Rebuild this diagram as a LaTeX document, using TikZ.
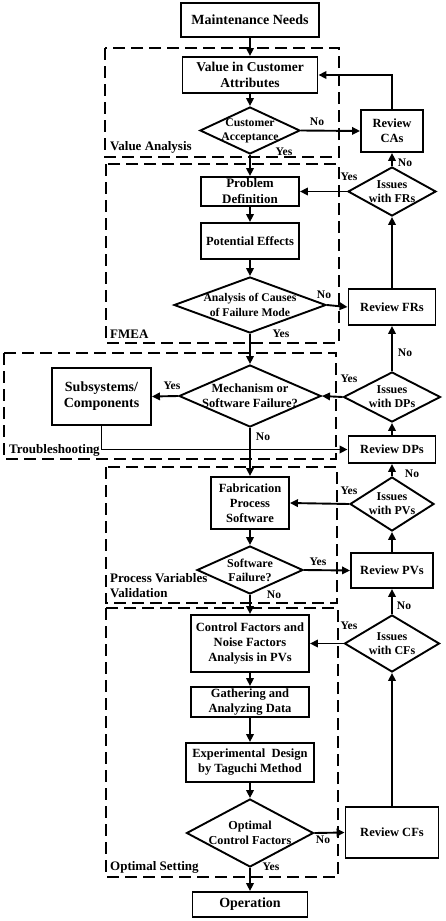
\documentclass[tikz,border=0pt]{standalone}
\usepackage{fontspec}
\setmainfont{Liberation Serif}
\usetikzlibrary{shapes.geometric,arrows.meta}
\newcommand\fsz[2][15]{\fontsize{#2}{#1}\selectfont\bfseries}
\begin{document}
\begin{tikzpicture}[x=1pt,y=-1pt,
  box/.style={draw,line width=1.9pt,rectangle,inner sep=0pt,align=center,font={\fsz{12.5}}},
  dia/.style={draw,line width=1.9pt,diamond,inner sep=0pt},
  dtext/.style={inner sep=0pt,align=center,font={\fsz[14]{12}}},
  lab/.style={inner sep=0pt,font={\fsz{11.6}}},
  sec/.style={inner sep=0pt,anchor=west,align=left,font={\fsz{13}}},
  dbox/.style={line width=1.9pt,dash pattern=on 12pt off 6pt},
  arr/.style={line width=1.9pt,-{Triangle[length=8pt,width=7.5pt]}},
  ln/.style={line width=1.9pt}]
\useasboundingbox (0,0) rectangle (445,921);

% dashed groups
\draw[dbox] (105,48) rectangle (339,157);
\draw[dbox] (106,164) rectangle (339,343);
\draw[dbox] (4,353) rectangle (336,459);
\draw[dbox] (106,467) rectangle (337,603);
\draw[dbox] (106,608) rectangle (338,877);

\node[sec] (sva) at (110,147) {Value Analysis};
\node[sec] (sfm) at (110,334) {FMEA};
\node[sec] (str) at (9,450) {Troubleshooting};
\node[sec] (spv) at (110,585.5) {Process Variables\\Validation};
\node[sec] (sos) at (110,867) {Optimal Setting};

% main column
\node[box,minimum width=138,minimum height=34,font={\fsz{14}}] (mn) at (250,20) {Maintenance Needs};
\node[box,minimum width=135,minimum height=36,font={\fsz[15.5]{13.5}}] (vca) at (250,75) {Value in Customer\\Attributes};
\node[dia,minimum width=100,minimum height=47] (ca) at (250,130.5) {};
\node[dtext,font={\fsz[14]{11.7}}] (caT) at (ca.center) {Customer\\Acceptance};
\node[box,minimum width=98,minimum height=29,font={\fsz[16]{13}}] (pd) at (250,191.5) {Problem\\Definition};
\node[box,minimum width=98,minimum height=36] (pe) at (250,241) {Potential Effects};
\node[dia,minimum width=152,minimum height=56] (an) at (250,305) {};
\node[dtext,font={\fsz{11.7}}] (anT) at (an.center) {Analysis of Causes\\of Failure Mode};
\node[dia,minimum width=142,minimum height=62] (me) at (250,396) {};
\node[dtext,font={\fsz[15]{12.5}}] (meT) at (me.center) {Mechanism or\\Software Failure?};
\node[box,minimum width=99,minimum height=57,font={\fsz[16]{14}}] (sub) at (101.5,396.5) {Subsystems/\\Components};
\node[box,minimum width=78,minimum height=52] (fab) at (250,503) {Fabrication\\Process\\Software};
\node[dia,minimum width=106,minimum height=48] (sw) at (250,570) {};
\node[dtext] (swT) at (sw.center) {Software\\Failure?};
\node[box,minimum width=118,minimum height=57] (cf) at (250,643.5) {Control Factors and\\Noise Factors\\Analysis in PVs};
\node[box,minimum width=118,minimum height=30] (ga) at (250,702) {Gathering and\\Analyzing Data};
\node[box,minimum width=128,minimum height=39] (ex) at (250,762.5) {Experimental\ \ Design\\by Taguchi Method};
\node[dia,minimum width=127,minimum height=68] (oc) at (250,833) {};
\node[dtext,font={\fsz{12.2}}] (ocT) at (oc.center) {Optimal\\Control Factors};
\node[box,minimum width=115,minimum height=25,font={\fsz{14}}] (op) at (250,904.5) {Operation};

% right column
\node[box,minimum width=62,minimum height=42] (rca) at (392,131) {Review\\CAs};
\node[dia,minimum width=88,minimum height=49] (ifr) at (392,191.5) {};
\node[dtext] (ifrT) at (ifr.center) {Issues\\with FRs};
\node[box,minimum width=87,minimum height=36] (rfr) at (392,307) {Review FRs};
\node[dia,minimum width=97,minimum height=50] (idp) at (392,397) {};
\node[dtext] (idpT) at (idp.center) {Issues\\with DPs};
\node[box,minimum width=87,minimum height=27] (rdp) at (392,449.5) {Review DPs};
\node[dia,minimum width=84,minimum height=54] (ipv) at (392,504) {};
\node[dtext] (ipvT) at (ipv.center) {Issues\\with PVs};
\node[box,minimum width=82,minimum height=35] (rpv) at (392,570.5) {Review PVs};
\node[dia,minimum width=95,minimum height=57] (icf) at (392,643.5) {};
\node[dtext] (icfT) at (icf.center) {Issues\\with CFs};
\node[box,minimum width=93,minimum height=51] (rcf) at (392,832.5) {Review CFs};

% connectors main column
\draw[arr] (mn) -- (vca);
\draw[arr] (vca) -- (ca.north);
\draw[arr] (ca.south) -- (pd);
\draw[arr] (pd) -- (pe);
\draw[arr] (pe) -- (an.north);
\draw[arr] (an.south) -- (me.north);
\draw[arr] (me.south) -- (fab);
\draw[arr] (fab) -- (sw.north);
\draw[arr] (sw.south) -- (cf);
\draw[arr] (cf) -- (ga);
\draw[arr] (ga) -- (ex);
\draw[arr] (ex) -- (oc.north);
\draw[arr] (oc.south) -- (op);

% horizontal to right column
\draw[arr] (ca.east) -- (rca.west);
\draw[arr] (an.east) -- (rfr.west);
\draw[arr] (me.west) -- (sub.east);
\draw[arr] (sub.south) |- (rdp.west);
\draw[arr] (sw.east) -- (rpv.west);
\draw[arr] (oc.east) -- (rcf.west);

% right column vertical
\draw[arr] (rca.north) |- (vca.east);
\draw[arr] (rfr.north) -- (ifr.south);
\draw[arr] (ifr.north) -- (rca.south);
\draw[arr] (ifr.west) -- (pd.east);
\draw[arr] (rdp.north) -- (idp.south);
\draw[arr] (idp.north) -- (rfr.south);
\draw[arr] (idp.west) -- (me.east);
\draw[arr] (rpv.north) -- (ipv.south);
\draw[arr] (ipv.north) -- (rdp.south);
\draw[arr] (ipv.west) -- (fab.east);
\draw[arr] (rcf.north) -- (icf.south);
\draw[arr] (icf.north) -- (rpv.south);
\draw[arr] (icf.west) -- (cf.east);

% yes/no labels
\node[lab] (l1) at (317,122) {No};
\node[lab] (l2) at (284,152) {Yes};
\node[lab] (l3) at (405,163) {No};
\node[lab] (l4) at (349,177) {Yes};
\node[lab] (l5) at (324,295) {No};
\node[lab] (l6) at (281,334) {Yes};
\node[lab] (l7) at (405,353) {No};
\node[lab] (l8) at (349,379) {Yes};
\node[lab] (l9) at (172,386) {Yes};
\node[lab] (l10) at (263,437) {No};
\node[lab] (l11) at (412,474) {No};
\node[lab] (l12) at (349,491) {Yes};
\node[lab] (l13) at (318,562) {Yes};
\node[lab] (l14) at (274,595) {No};
\node[lab] (l15) at (404,606) {No};
\node[lab] (l16) at (349,626) {Yes};
\node[lab] (l17) at (323,840) {No};
\node[lab] (l18) at (271,867) {Yes};
\end{tikzpicture}
\end{document}
